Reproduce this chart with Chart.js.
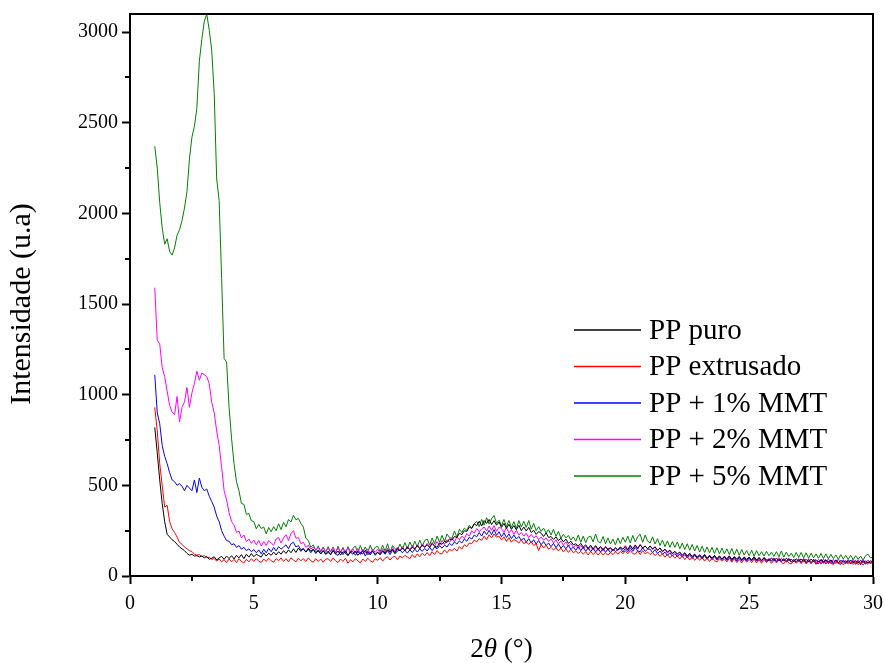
<!DOCTYPE html>
<html>
<head>
<meta charset="utf-8">
<script src="https://cdn.jsdelivr.net/npm/chart.js@4.4.1/dist/chart.umd.min.js"></script>
<style>
  html, body { margin: 0; padding: 0; background: #fff; }
  #wrap { width: 885px; height: 663px; }
</style>
</head>
<body>
<div id="wrap"><canvas id="xrd-chart-id" width="885" height="663"></canvas></div>
<script>
// 2theta grid, 1.0 .. 30.0 in 0.1 steps (measurement grid)
const angles = Array.from({ length: 291 }, (_, i) => Math.round((1 + i * 0.1) * 10) / 10);

const seriesNames = ['PP puro', 'PP extrusado', 'PP + 1% MMT', 'PP + 2% MMT', 'PP + 5% MMT'];
const seriesColors = ['#000000', '#ff0000', '#0000ff', '#ff00ff', '#008000'];

const xTicks = [0, 5, 10, 15, 20, 25, 30];
const yTicks = [0, 500, 1000, 1500, 2000, 2500, 3000];

// PP puro
const ppPuro = [
  820, 680, 530, 400, 300, 230, 215, 200, 190, 175,
  160, 150, 140, 125, 115, 120, 110, 112, 105, 110,
  100, 108, 92, 98, 106, 88, 100, 108, 92, 110,
  96, 112, 94, 114, 100, 118, 96, 120, 104, 124,
  106, 120, 112, 104, 128, 110, 126, 114, 132, 116,
  134, 120, 140, 124, 144, 128, 150, 130, 154, 136,
  150, 132, 154, 136, 148, 130, 138, 122, 140, 120,
  130, 118, 140, 122, 138, 115, 134, 126, 112, 132,
  120, 138, 114, 130, 122, 142, 118, 128, 136, 120,
  132, 118, 140, 126, 145, 130, 148, 128, 152, 138,
  155, 140, 160, 146, 158, 150, 168, 152, 170, 160,
  172, 158, 178, 165, 158, 182, 175, 192, 185, 205,
  198, 218, 212, 236, 228, 250, 246, 270, 262, 288,
  278, 302, 276, 306, 290, 312, 284, 305, 280, 298,
  268, 290, 262, 285, 258, 278, 255, 280, 250, 270,
  248, 268, 240, 252, 230, 245, 236, 218, 238, 212,
  218, 202, 215, 196, 208, 188, 204, 180, 192, 172,
  178, 165, 180, 160, 172, 152, 170, 150, 168, 148,
  162, 145, 160, 148, 156, 140, 155, 144, 160, 148,
  162, 145, 168, 150, 170, 152, 172, 155, 165, 150,
  166, 150, 160, 142, 155, 136, 148, 132, 142, 125,
  136, 122, 132, 115, 128, 110, 124, 108, 120, 104,
  116, 102, 118, 98, 112, 100, 114, 96, 110, 94,
  108, 96, 110, 92, 106, 94, 108, 90, 104, 92,
  104, 90, 106, 88, 102, 86, 100, 90, 84, 100,
  86, 98, 84, 96, 82, 98, 85, 92, 80, 95,
  82, 94, 80, 92, 78, 93, 79, 90, 76, 91,
  78, 90, 76, 88, 75, 89, 74, 86, 77, 84,
  74, 88, 73, 85, 72, 86, 75, 82, 72, 84,
  76
];

// PP extrusado
const ppExtrusado = [
  930, 800, 620, 500, 380, 390, 300, 260, 240, 215,
  185, 175, 160, 150, 140, 135, 120, 115, 118, 108,
  112, 100, 104, 92, 96, 82, 94, 78, 90, 74,
  94, 78, 92, 74, 96, 80, 72, 92, 78, 96,
  80, 96, 82, 74, 94, 80, 98, 84, 76, 96,
  84, 100, 80, 96, 78, 100, 88, 78, 98, 84,
  96, 80, 100, 84, 76, 96, 80, 94, 76, 92,
  96, 80, 100, 84, 74, 94, 80, 98, 70, 90,
  78, 96, 84, 72, 94, 80, 98, 84, 76, 96,
  86, 102, 82, 98, 106, 88, 104, 108, 90, 110,
  100, 114, 104, 96, 118, 102, 122, 106, 126, 112,
  130, 112, 134, 118, 140, 124, 122, 144, 128, 146,
  140, 152, 138, 162, 148, 172, 162, 182, 178, 198,
  188, 206, 196, 220, 200, 228, 210, 232, 214, 220,
  198, 216, 190, 212, 186, 202, 194, 182, 200, 178,
  188, 174, 190, 168, 178, 140, 174, 154, 170, 148,
  158, 144, 156, 138, 154, 132, 150, 130, 148, 128,
  138, 124, 136, 120, 134, 116, 136, 118, 132, 116,
  132, 116, 128, 114, 130, 118, 134, 120, 136, 122,
  140, 122, 142, 124, 120, 138, 118, 140, 122, 132,
  118, 130, 112, 126, 108, 122, 104, 118, 100, 114,
  98, 112, 94, 110, 90, 108, 88, 106, 86, 102,
  86, 104, 82, 100, 80, 98, 84, 78, 96, 82,
  94, 78, 98, 76, 96, 74, 92, 72, 94, 76,
  92, 74, 94, 72, 90, 70, 92, 74, 88, 70,
  88, 72, 90, 74, 68, 88, 72, 66, 86, 70,
  86, 68, 90, 66, 84, 68, 86, 64, 82, 66,
  82, 66, 80, 70, 64, 80, 68, 78, 62, 80,
  66, 78, 64, 80, 62, 78, 60, 76, 64, 78,
  72
];

// PP + 1% MMT
const pp1Mmt = [
  1110, 900, 840, 720, 660, 620, 570, 530, 520, 500,
  510, 495, 470, 500, 485, 470, 530, 460, 540, 490,
  470, 480, 440, 410, 380, 330, 300, 250, 220, 195,
  192, 172, 178, 158, 168, 148, 158, 140, 150, 134,
  146, 128, 144, 122, 148, 128, 152, 134, 158, 138,
  162, 148, 160, 172, 150, 178, 186, 160, 168, 144,
  152, 132, 148, 128, 146, 124, 144, 122, 140, 120,
  138, 118, 142, 120, 114, 136, 118, 140, 114, 134,
  134, 114, 136, 118, 140, 110, 134, 116, 138, 114,
  130, 118, 136, 120, 140, 118, 142, 122, 138, 144,
  128, 142, 126, 144, 130, 148, 132, 150, 136, 152,
  138, 158, 140, 160, 150, 166, 154, 170, 160, 180,
  168, 188, 176, 194, 182, 204, 192, 214, 204, 226,
  216, 240, 220, 248, 228, 252, 228, 256, 224, 244,
  216, 238, 212, 232, 206, 226, 204, 218, 196, 210,
  186, 206, 182, 200, 176, 196, 172, 190, 168, 182,
  162, 180, 156, 176, 154, 168, 150, 170, 146, 160,
  142, 162, 140, 160, 136, 156, 134, 154, 132, 152,
  132, 152, 130, 150, 128, 148, 134, 146, 152, 132,
  152, 134, 156, 136, 158, 138, 134, 156, 136, 148,
  148, 128, 146, 124, 138, 120, 132, 114, 128, 110,
  124, 108, 120, 104, 118, 100, 118, 96, 116, 96,
  112, 94, 114, 92, 110, 90, 108, 88, 106, 90,
  104, 86, 108, 84, 104, 82, 102, 84, 100, 82,
  100, 84, 98, 82, 96, 84, 98, 80, 94, 82,
  96, 80, 94, 82, 92, 78, 94, 76, 90, 76,
  92, 74, 94, 72, 90, 70, 92, 72, 68, 90,
  70, 88, 68, 86, 66, 88, 70, 64, 86, 68,
  86, 66, 84, 64, 82, 62, 86, 66, 78, 70,
  75
];

// PP + 2% MMT
const pp2Mmt = [
  1590, 1300, 1280, 1150, 1100, 1020, 940, 905, 890, 990,
  850, 930, 960, 1040, 930, 1010, 1060, 1130, 1080, 1120,
  1110, 1100, 1060, 960, 900, 800, 720, 600, 470, 420,
  350, 300, 282, 240, 248, 210, 226, 190, 204, 180,
  198, 172, 196, 166, 190, 168, 196, 182, 170, 204,
  212, 182, 210, 228, 196, 234, 250, 208, 212, 178,
  186, 158, 170, 148, 160, 144, 158, 138, 160, 134,
  154, 132, 158, 130, 156, 128, 152, 130, 156, 126,
  150, 126, 152, 124, 148, 128, 150, 124, 148, 130,
  148, 126, 152, 130, 154, 132, 158, 134, 160, 138,
  162, 138, 164, 142, 170, 146, 172, 150, 176, 156,
  180, 158, 186, 164, 190, 168, 196, 174, 200, 186,
  210, 188, 216, 200, 220, 206, 234, 220, 250, 236,
  262, 244, 260, 270, 248, 276, 252, 278, 246, 270,
  262, 240, 268, 236, 256, 230, 252, 226, 240, 220,
  236, 212, 230, 210, 222, 200, 216, 196, 210, 190,
  206, 182, 200, 176, 194, 170, 188, 164, 180, 158,
  172, 152, 170, 148, 166, 146, 162, 142, 164, 140,
  162, 138, 164, 140, 156, 138, 158, 140, 160, 146,
  168, 144, 170, 146, 172, 148, 174, 150, 166, 150,
  166, 146, 162, 140, 154, 132, 148, 126, 140, 120,
  136, 114, 130, 108, 128, 106, 126, 102, 122, 100,
  118, 96, 120, 94, 116, 92, 114, 90, 112, 90,
  110, 88, 112, 86, 108, 84, 106, 84, 106, 86,
  104, 84, 106, 82, 102, 80, 104, 82, 98, 82,
  100, 80, 102, 78, 98, 76, 100, 78, 94, 80,
  96, 76, 98, 74, 96, 72, 94, 74, 92, 72,
  94, 72, 96, 70, 92, 68, 94, 70, 90, 70,
  92, 68, 94, 70, 90, 68, 94, 70, 88, 72,
  80
];

// PP + 5% MMT
const pp5Mmt = [
  2370, 2250, 2060, 1920, 1830, 1860, 1790, 1770, 1810, 1880,
  1910, 1960, 2030, 2120, 2300, 2420, 2480, 2580, 2840, 2960,
  3060, 3100, 3010, 2900, 2660, 2190, 2070, 1640, 1200, 1180,
  930, 760, 620, 520, 470, 400, 395, 340, 345, 305,
  300, 260, 285, 262, 270, 232, 268, 244, 272, 250,
  288, 256, 296, 272, 312, 298, 335, 310, 318, 290,
  270, 208, 196, 158, 172, 140, 166, 132, 158, 130,
  162, 132, 160, 126, 164, 130, 158, 124, 162, 134,
  152, 166, 128, 168, 134, 160, 130, 170, 136, 158,
  164, 134, 170, 138, 178, 132, 168, 150, 144, 176,
  148, 184, 150, 188, 156, 192, 160, 198, 164, 196,
  204, 170, 210, 178, 220, 186, 224, 190, 232, 212,
  208, 248, 214, 258, 240, 264, 252, 280, 266, 288,
  302, 272, 312, 280, 322, 286, 316, 334, 290, 308,
  278, 312, 272, 306, 268, 300, 262, 306, 270, 302,
  268, 306, 258, 290, 250, 272, 246, 264, 238, 256,
  226, 258, 218, 246, 208, 230, 210, 224, 198, 216,
  192, 226, 186, 220, 184, 214, 220, 188, 232, 190,
  182, 218, 178, 210, 176, 204, 172, 210, 178, 214,
  186, 220, 182, 224, 188, 218, 230, 186, 226, 192,
  182, 216, 176, 206, 168, 198, 162, 194, 158, 190,
  158, 188, 150, 182, 146, 178, 142, 174, 138, 168,
  132, 164, 130, 160, 128, 158, 124, 156, 122, 154,
  122, 150, 118, 152, 116, 148, 114, 146, 116, 140,
  112, 142, 110, 140, 112, 134, 110, 136, 112, 132,
  108, 134, 106, 138, 104, 132, 108, 126, 102, 130,
  102, 130, 100, 128, 98, 126, 100, 122, 98, 124,
  96, 122, 94, 120, 96, 116, 92, 118, 94, 114,
  92, 114, 90, 112, 92, 110, 88, 112, 120, 100,
  104
];

const seriesValues = [ppPuro, ppExtrusado, pp1Mmt, pp2Mmt, pp5Mmt];

const serifFont = "'Liberation Serif', 'Times New Roman', serif";

// frame, minor ticks, axis titles and legend drawn by hand
const decorPlugin = {
  id: 'decor',
  afterDraw(chart) {
    const ctx = chart.ctx;
    const area = chart.chartArea;
    const xs = chart.scales.x;
    const ys = chart.scales.y;
    ctx.save();
    ctx.strokeStyle = '#000';
    ctx.lineWidth = 2;
    // top + right frame
    ctx.beginPath();
    ctx.moveTo(area.left, area.top);
    ctx.lineTo(area.right, area.top);
    ctx.lineTo(area.right, area.bottom);
    ctx.stroke();

    // minor ticks
    ctx.beginPath();
    for (let v = 2.5; v < 30; v += 5) {
      const px = Math.round(xs.getPixelForValue(v));
      ctx.moveTo(px, area.bottom);
      ctx.lineTo(px, area.bottom + 5);
    }
    for (let v = 250; v < 3100; v += 500) {
      const py = Math.round(ys.getPixelForValue(v));
      ctx.moveTo(area.left, py);
      ctx.lineTo(area.left - 5, py);
    }
    ctx.stroke();

    // y title
    ctx.fillStyle = '#000';
    ctx.font = '30px ' + serifFont;
    ctx.textAlign = 'center';
    ctx.textBaseline = 'middle';
    ctx.save();
    ctx.translate(22, 304);
    ctx.rotate(-Math.PI / 2);
    ctx.fillText('Intensidade (u.a)', 0, 0);
    ctx.restore();

    // x title: 2θ (°) with italic theta
    const parts = [
      { t: '2', f: '27px ' + serifFont },
      { t: 'θ', f: 'italic 27px ' + serifFont },
      { t: ' (°)', f: '27px ' + serifFont }
    ];
    let total = 0;
    parts.forEach(p => { ctx.font = p.f; p.w = ctx.measureText(p.t).width; total += p.w; });
    let cx = (area.left + area.right) / 2 - total / 2;
    ctx.textAlign = 'left';
    ctx.textBaseline = 'alphabetic';
    parts.forEach(p => { ctx.font = p.f; ctx.fillText(p.t, cx, 657); cx += p.w; });

    // legend
    ctx.font = '29px ' + serifFont;
    ctx.textBaseline = 'middle';
    seriesNames.forEach((name, i) => {
      const y = 330 + i * 36.5;
      ctx.strokeStyle = seriesColors[i];
      ctx.lineWidth = 1.5;
      ctx.beginPath();
      ctx.moveTo(574, y);
      ctx.lineTo(641, y);
      ctx.stroke();
      ctx.fillStyle = '#000';
      ctx.fillText(name, 649, y + 1);
    });
    ctx.restore();
  }
};

const xrdCtx = document.getElementById('xrd-chart-id');
if (xrdCtx) {
  new Chart(xrdCtx, {
    type: 'line',
    data: {
      datasets: seriesNames.map((name, i) => ({
        label: name,
        data: seriesValues[i].map((v, j) => ({ x: angles[j], y: v })),
        borderColor: seriesColors[i],
        borderWidth: 1,
        pointRadius: 0,
        tension: 0,
        fill: false
      }))
    },
    options: {
      responsive: false,
      animation: false,
      layout: { padding: { left: 0, right: 12, top: 14, bottom: 0 } },
      plugins: {
        legend: { display: false },
        tooltip: { enabled: false }
      },
      scales: {
        x: {
          type: 'linear',
          min: 0,
          max: 30,
          afterBuildTicks: s => { s.ticks = xTicks.map(v => ({ value: v })); },
          afterFit: s => { s.height = 87; s.paddingLeft = 0; s.paddingRight = 0; },
          ticks: {
            color: '#000',
            padding: 8,
            maxRotation: 0,
            callback: v => String(v),
            font: { family: serifFont, size: 20 }
          },
          grid: {
            drawOnChartArea: false,
            drawTicks: true,
            tickLength: 8,
            tickWidth: 2,
            tickColor: '#000'
          },
          border: { display: true, color: '#000', width: 2 }
        },
        y: {
          min: 0,
          max: 3100,
          afterBuildTicks: s => { s.ticks = yTicks.map(v => ({ value: v })); },
          afterFit: s => { s.width = 130; s.paddingTop = 0; s.paddingBottom = 0; },
          ticks: {
            color: '#000',
            padding: 4,
            callback: v => String(v),
            font: { family: serifFont, size: 20 }
          },
          grid: {
            drawOnChartArea: false,
            drawTicks: true,
            tickLength: 8,
            tickWidth: 2,
            tickColor: '#000'
          },
          border: { display: true, color: '#000', width: 2 }
        }
      }
    },
    plugins: [decorPlugin]
  });
}
</script>
</body>
</html>
